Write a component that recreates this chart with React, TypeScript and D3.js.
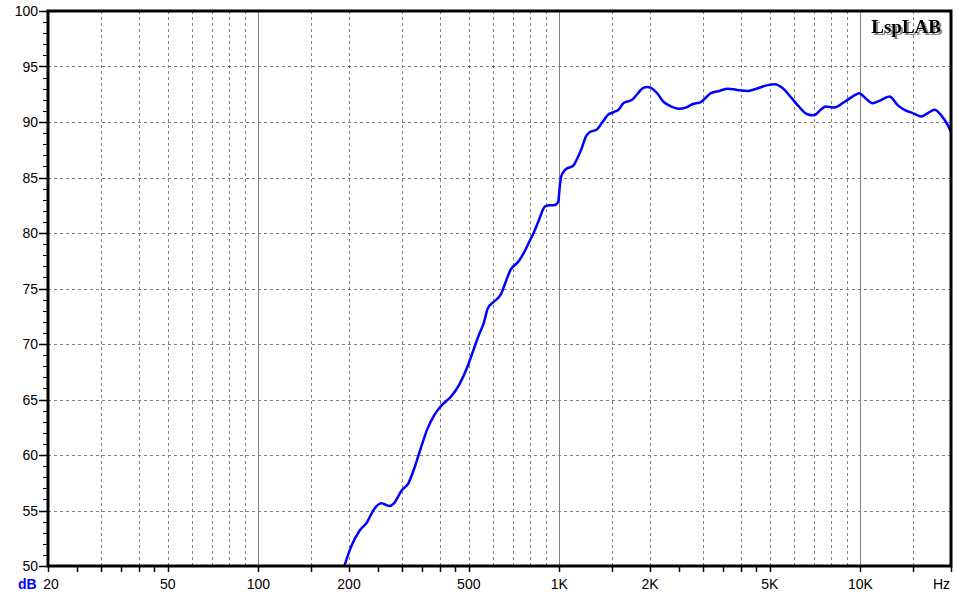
import { curveMonotoneX, line, range, scaleLinear, scaleLog } from "d3";
import type { FC } from "react";

// Frequency response (Hz, dB)
const freqs = [
  193, 203, 217, 229, 242, 256, 273, 282, 300, 315, 328, 342, 365, 384, 404,
  436, 464, 495, 518, 540, 561, 578, 605, 640, 661, 689, 730, 765, 794, 824,
  856, 896, 930, 961, 991, 1003, 1014, 1046, 1115, 1141, 1185, 1226, 1263,
  1329, 1384, 1444, 1515, 1572, 1631, 1744, 1812, 1906, 1960, 2008, 2112, 2221,
  2313, 2497, 2628, 2766, 2950, 3186, 3401, 3627, 3870, 4236, 4520, 4887, 5213,
  5486, 5849, 6240, 6660, 7010, 7381, 7673, 8189, 8843, 9553, 9922, 10250,
  10990, 11570, 12490, 13320, 14010, 14920, 15920, 16750, 17630, 18560, 19530,
  20000,
];
const levels = [
  50.0, 51.7, 53.2, 53.9, 55.1, 55.65, 55.4, 55.65, 56.85, 57.45, 58.65, 60.15,
  62.4, 63.6, 64.4, 65.25, 66.3, 67.95, 69.45, 70.8, 71.9, 73.2, 73.8, 74.5,
  75.5, 76.7, 77.4, 78.3, 79.2, 80.1, 81.2, 82.4, 82.5, 82.5, 82.8, 84.2, 85.1,
  85.7, 86.1, 86.6, 87.6, 88.7, 89.1, 89.3, 89.9, 90.6, 90.9, 91.1, 91.7, 92.0,
  92.5, 93.1, 93.15, 93.1, 92.6, 91.8, 91.5, 91.2, 91.3, 91.6, 91.8, 92.6, 92.8,
  93.0, 92.9, 92.8, 93.0, 93.3, 93.4, 93.1, 92.3, 91.4, 90.7, 90.6, 91.1, 91.4,
  91.3, 91.8, 92.4, 92.6, 92.3, 91.7, 91.9, 92.3, 91.5, 91.1, 90.8, 90.5, 90.8,
  91.1, 90.6, 89.7, 89.1,
];

const xLabels = [
  { f: 20, text: "20" },
  { f: 50, text: "50" },
  { f: 100, text: "100" },
  { f: 200, text: "200" },
  { f: 500, text: "500" },
  { f: 1000, text: "1K" },
  { f: 2000, text: "2K" },
  { f: 5000, text: "5K" },
  { f: 10000, text: "10K" },
];
const decades = [10, 100, 1000, 10000];
const gridSteps = [1.5, 2, 3, 4, 5, 6, 7, 8, 9];
const tickSteps = [1, 1.5, 2, 2.5, 3, 3.5, 4, 4.5, 5];
const yLabels = range(50, 101, 5);

const width = 957;
const height = 596;
const margin = { top: 11, right: 6, bottom: 30, left: 48 };
const font = "'Liberation Sans', Arial, sans-serif";

const ResponseChart: FC = () => {
  const left = margin.left;
  const right = width - margin.right;
  const top = margin.top;
  const bottom = height - margin.bottom;

  const xScale = scaleLog().domain([20, 20000]).range([left, right]);
  const yScale = scaleLinear().domain([50, 100]).range([bottom, top]);

  const inDomain = (f: number) => f >= 20 && f <= 20000;
  const gridFreqs = decades
    .flatMap((d) => gridSteps.map((s) => s * d))
    .filter((f) => inDomain(f) && f < 20000);
  const solidFreqs = [100, 1000, 10000];
  const tickFreqs = decades
    .flatMap((d) => tickSteps.map((s) => s * d))
    .filter(inDomain);

  const pts: [number, number][] = freqs.map((f, i) => [f, levels[i]]);
  const path = line<[number, number]>()
    .curve(curveMonotoneX)
    .x((d) => xScale(d[0]))
    .y((d) => yScale(d[1]))(pts);

  return (
    <svg width={width} height={height} style={{ display: "block" }}>
      <rect width={width} height={height} fill="#ffffff" />
      <defs>
        <clipPath id="plot">
          <rect x={left} y={top} width={right - left} height={bottom - top} />
        </clipPath>
        <filter id="shadow" x="-10%" y="-30%" width="130%" height="160%">
          <feDropShadow
            dx={2}
            dy={2}
            stdDeviation={0.6}
            floodColor="#808080"
            floodOpacity={0.9}
          />
        </filter>
      </defs>

      {/* grid */}
      {gridFreqs.map((f) => (
        <line
          key={"gx" + f}
          x1={Math.round(xScale(f)) + 0.5}
          x2={Math.round(xScale(f)) + 0.5}
          y1={top}
          y2={bottom}
          stroke="#808080"
          strokeDasharray="3,3"
        />
      ))}
      {solidFreqs.map((f) => (
        <line
          key={"sx" + f}
          x1={Math.round(xScale(f)) + 0.5}
          x2={Math.round(xScale(f)) + 0.5}
          y1={top}
          y2={bottom}
          stroke="#808080"
        />
      ))}
      {yLabels.slice(1, -1).map((v) => (
        <line
          key={"gy" + v}
          x1={left}
          x2={right}
          y1={Math.round(yScale(v)) + 0.5}
          y2={Math.round(yScale(v)) + 0.5}
          stroke="#808080"
          strokeDasharray="3,3"
        />
      ))}

      {/* curve */}
      <path
        d={path || ""}
        fill="none"
        stroke="#0000ff"
        strokeWidth={2.5}
        strokeLinejoin="round"
        clipPath="url(#plot)"
      />

      {/* frame */}
      <rect
        x={left}
        y={top}
        width={right - left}
        height={bottom - top}
        fill="none"
        stroke="#000000"
        strokeWidth={3}
      />

      {/* y ticks */}
      {range(50, 101, 1).map((v) => (
        <line
          key={"ty" + v}
          x1={v % 5 === 0 ? left - 9 : left - 5}
          x2={left}
          y1={Math.round(yScale(v)) + 0.5}
          y2={Math.round(yScale(v)) + 0.5}
          stroke="#000000"
          strokeWidth={v % 5 === 0 ? 1.5 : 1}
        />
      ))}
      {yLabels.map((v) => (
        <text
          key={"ly" + v}
          x={left - 10}
          y={yScale(v) + 5}
          textAnchor="end"
          fontFamily={font}
          fontSize={14}
          fill="#000000"
        >
          {v}
        </text>
      ))}

      {/* x ticks */}
      {tickFreqs.map((f) => (
        <line
          key={"tx" + f}
          x1={Math.round(xScale(f)) + 0.5}
          x2={Math.round(xScale(f)) + 0.5}
          y1={bottom}
          y2={bottom + 6}
          stroke="#000000"
          strokeWidth={1.5}
        />
      ))}
      {xLabels.map((d) => (
        <text
          key={"lx" + d.f}
          x={xScale(d.f) + (d.f === 20 ? 3 : 0)}
          y={bottom + 23}
          textAnchor="middle"
          fontFamily={font}
          fontSize={14}
          fill="#000000"
        >
          {d.text}
        </text>
      ))}
      <text
        x={right - 1}
        y={bottom + 23}
        textAnchor="end"
        fontFamily={font}
        fontSize={14}
        fill="#000000"
      >
        Hz
      </text>
      <text
        x={18}
        y={bottom + 23}
        fontFamily={font}
        fontSize={14}
        fontWeight="bold"
        fill="#0000ff"
      >
        dB
      </text>

      {/* logo */}
      <text
        x={right - 10}
        y={33}
        textAnchor="end"
        fontFamily="'Liberation Serif', 'Times New Roman', serif"
        fontSize={19}
        fontWeight="bold"
        fill="#000000"
        filter="url(#shadow)"
      >
        LspLAB
      </text>
    </svg>
  );
};

export default function App() {
  return (
    <div style={{ position: "absolute", left: 0, top: 0 }}>
      <ResponseChart />
    </div>
  );
}
